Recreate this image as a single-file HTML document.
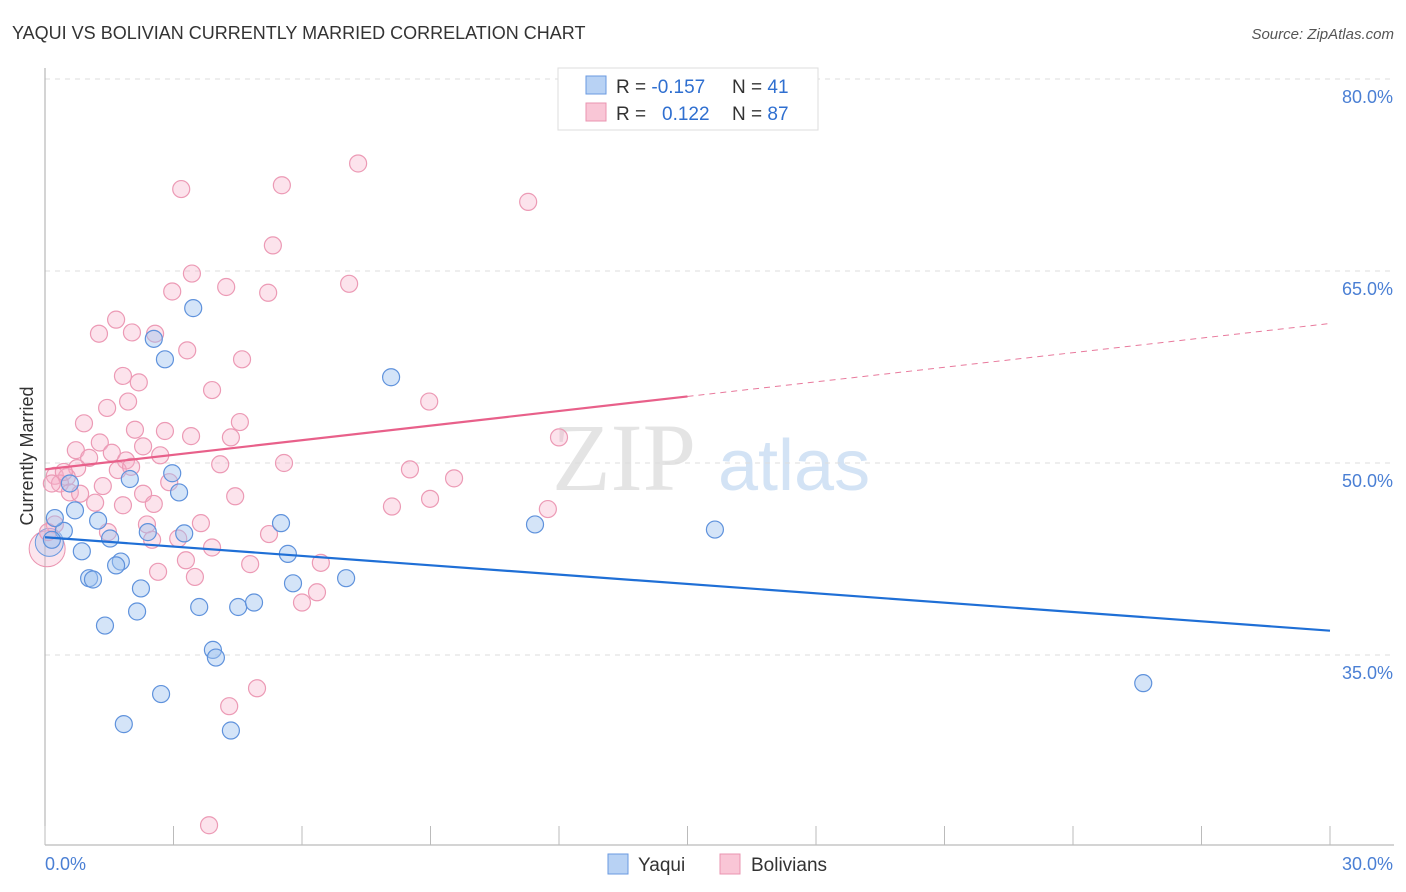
<!DOCTYPE html>
<html><head><meta charset="utf-8"><style>
body{margin:0;background:#fff;font-family:"Liberation Sans",sans-serif;}
svg{display:block}
</style></head><body>
<svg id="chart" width="1406" height="892">
<text x="12" y="39" font-size="18" fill="#333">YAQUI VS BOLIVIAN CURRENTLY MARRIED CORRELATION CHART</text>
<text x="1394" y="39" font-size="15" fill="#555" font-style="italic" text-anchor="end">Source: ZipAtlas.com</text>
<text x="33" y="456" font-size="18" fill="#333" transform="rotate(-90 33 456)" text-anchor="middle">Currently Married</text>
<g>
<text x="552" y="490" font-size="96" font-family="Liberation Serif,serif" fill="#e4e4e4">ZIP</text>
<text x="718" y="490" font-size="72" fill="#d3e3f5">atlas</text>
</g>
<g id="grid"></g><g id="axes"></g><g id="pts"></g><g id="lines"></g>
<g>
<rect x="558" y="68" width="260" height="62" fill="#fff" stroke="#ddd"/>
<rect x="586" y="76" width="20" height="18" fill="#b8d2f4" stroke="#6a9ae0"/>
<rect x="586" y="103" width="20" height="18" fill="#f9c6d6" stroke="#ea94b0"/>
<text x="616" y="93" font-size="19" fill="#333">R = <tspan fill="#2f6fd0">-0.157</tspan><tspan x="732">N = </tspan><tspan fill="#2f6fd0">41</tspan></text>
<text x="616" y="120" font-size="19" fill="#333">R = <tspan x="662" fill="#2f6fd0">0.122</tspan><tspan x="732">N = </tspan><tspan fill="#2f6fd0">87</tspan></text>
</g>
<g>
<rect x="608" y="854" width="20" height="20" fill="#b8d2f4" stroke="#6a9ae0"/>
<text x="638" y="871" font-size="19" fill="#333">Yaqui</text>
<rect x="720" y="854" width="20" height="20" fill="#f9c6d6" stroke="#ea94b0"/>
<text x="751" y="871" font-size="19" fill="#333">Bolivians</text>
</g>
</svg>
<script>
const yaquiX=[3.46,2.54,2.80,8.08,2.97,1.98,3.13,0.58,0.70,1.24,5.51,11.44,15.64,0.44,2.40,3.25,1.52,0.16,0.86,5.67,1.77,1.66,1.03,1.12,7.03,5.79,2.24,3.60,4.51,4.88,2.15,1.40,3.92,3.99,2.71,25.64,1.84,4.34,0.23];
const yaquiY=[62.1,59.7,58.1,56.7,49.2,48.75,47.7,48.4,46.3,45.5,45.3,45.2,44.8,44.7,44.6,44.5,44.1,44.0,43.1,42.9,42.3,42.0,41.0,40.9,41.0,40.6,40.2,38.75,38.75,39.1,38.4,37.3,35.4,34.8,31.95,32.8,29.6,29.1,45.7];
const bolX=[7.31,3.18,5.53,11.28,5.32,3.43,2.97,4.23,5.21,7.10,1.66,2.57,1.26,2.03,3.32,4.60,1.82,2.19,3.90,1.45,1.94,8.97,4.55,0.91,2.10,2.80,3.41,4.34,12.0,2.29,0.72,1.28,1.56,1.03,1.89,2.69,0.75,1.70,2.01,4.09,5.58,8.52,0.23,0.51,0.35,1.35,2.90,9.55,0.58,2.29,4.44,8.99,8.10,11.74,1.17,1.82,2.54,2.38,3.64,5.23,1.47,2.50,3.11,3.90,0.23,0.07,4.79,6.44,2.64,3.29,3.50,6.35,6.00,4.95,4.30,3.83,0.82,0.44,0.16];
const bolY=[73.4,71.4,71.7,70.4,67.0,64.8,63.4,63.75,63.3,64.0,61.2,60.1,60.1,60.2,58.8,58.1,56.8,56.3,55.7,54.3,54.8,54.8,53.2,53.1,52.6,52.5,52.1,52.0,52.0,51.3,51.0,51.6,50.8,50.4,50.2,50.6,49.6,49.45,49.7,49.9,50.0,49.5,49.0,48.9,48.4,48.2,48.5,48.8,47.7,47.6,47.4,47.2,46.6,46.4,46.9,46.7,46.8,45.2,45.3,44.45,44.6,44.0,44.1,43.4,45.2,44.6,42.1,42.2,41.5,42.4,41.1,39.9,39.1,32.4,31.0,21.7,47.6,49.3,48.4];
const bigX=[0.05,0.1];
const bigY=[43.3,43.8];
const yTicks=[80,65,50,35];
const yTickLabels=["80.0%","65.0%","50.0%","35.0%"];
const xTicks=[0,3,6,9,12,15,18,21,24,27,30];
const xTickLabels=["0.0%","30.0%"];
const yaquiTrend=[44.2,36.9];
const bolTrend=[49.5,55.2,60.9];

const X0=45,X1=1330,Y80=79,PXPER=12.8;
const sx=v=>X0+(X1-X0)*v/30;
const sy=v=>Y80+(80-v)*PXPER;
const NS="http://www.w3.org/2000/svg";
function mk(tag,attrs,parent){const e=document.createElementNS(NS,tag);for(const k in attrs)e.setAttribute(k,attrs[k]);parent.appendChild(e);return e;}
const grid=document.getElementById('grid'),axes=document.getElementById('axes'),pts=document.getElementById('pts'),lines=document.getElementById('lines');
yTicks.forEach((t,i)=>{
 const l=mk('line',{x1:45,x2:1394,y1:sy(t),y2:sy(t),stroke:'#ddd','stroke-dasharray':'5,5'},grid);
 
 
 const tx=mk('text',{x:1393,y:sy(t)+24,'font-size':18,fill:'#4a7fd4','text-anchor':'end'},axes);
 tx.textContent=yTickLabels[i];
 
 
});
const ya=mk('line',{x1:45,x2:45,y1:68,y2:845,stroke:'#aaa'},axes);


const xa=mk('line',{x1:45,x2:1394,y1:845,y2:845,stroke:'#aaa'},axes);


xTicks.forEach(t=>{
 const l=mk('line',{x1:sx(t),x2:sx(t),y1:826,y2:845,stroke:'#bbb'},axes);
 
 
});
const xl0=mk('text',{x:45,y:870,'font-size':18,fill:'#4a7fd4'},axes);xl0.textContent=xTickLabels[0];


const xl1=mk('text',{x:1393,y:870,'font-size':18,fill:'#4a7fd4','text-anchor':'end'},axes);xl1.textContent=xTickLabels[1];


bigX.forEach((v,i)=>{
 const c=mk('circle',{cx:sx(v),cy:sy(bigY[i]),r:i?14:18,fill:i?'rgba(160,195,240,0.35)':'rgba(245,170,195,0.3)',stroke:i?'#6a9ae0':'#ea94b0','stroke-width':1},pts);
 
 
});
bolX.forEach((v,i)=>{
 const c=mk('circle',{cx:sx(v),cy:sy(bolY[i]),r:8.5,fill:'rgba(246,176,200,0.35)',stroke:'#ec9ab5','stroke-width':1.2},pts);
 
 
});
yaquiX.forEach((v,i)=>{
 const c=mk('circle',{cx:sx(v),cy:sy(yaquiY[i]),r:8.5,fill:'rgba(160,195,240,0.45)',stroke:'#5f92dc','stroke-width':1.2},pts);
 
 
});
const bl=mk('line',{x1:sx(0),y1:sy(yaquiTrend[0]),x2:sx(30),y2:sy(yaquiTrend[1]),stroke:'#1f6fd6','stroke-width':2.2},lines);


const pl=mk('line',{x1:sx(0),y1:sy(bolTrend[0]),x2:sx(15),y2:sy(bolTrend[1]),stroke:'#e8608a','stroke-width':2.2},lines);


const pd=mk('line',{x1:sx(15),y1:sy(bolTrend[1]),x2:sx(30),y2:sy(bolTrend[2]),stroke:'#e8799c','stroke-width':1,'stroke-dasharray':'6,5'},lines);


</script>
</body></html>
